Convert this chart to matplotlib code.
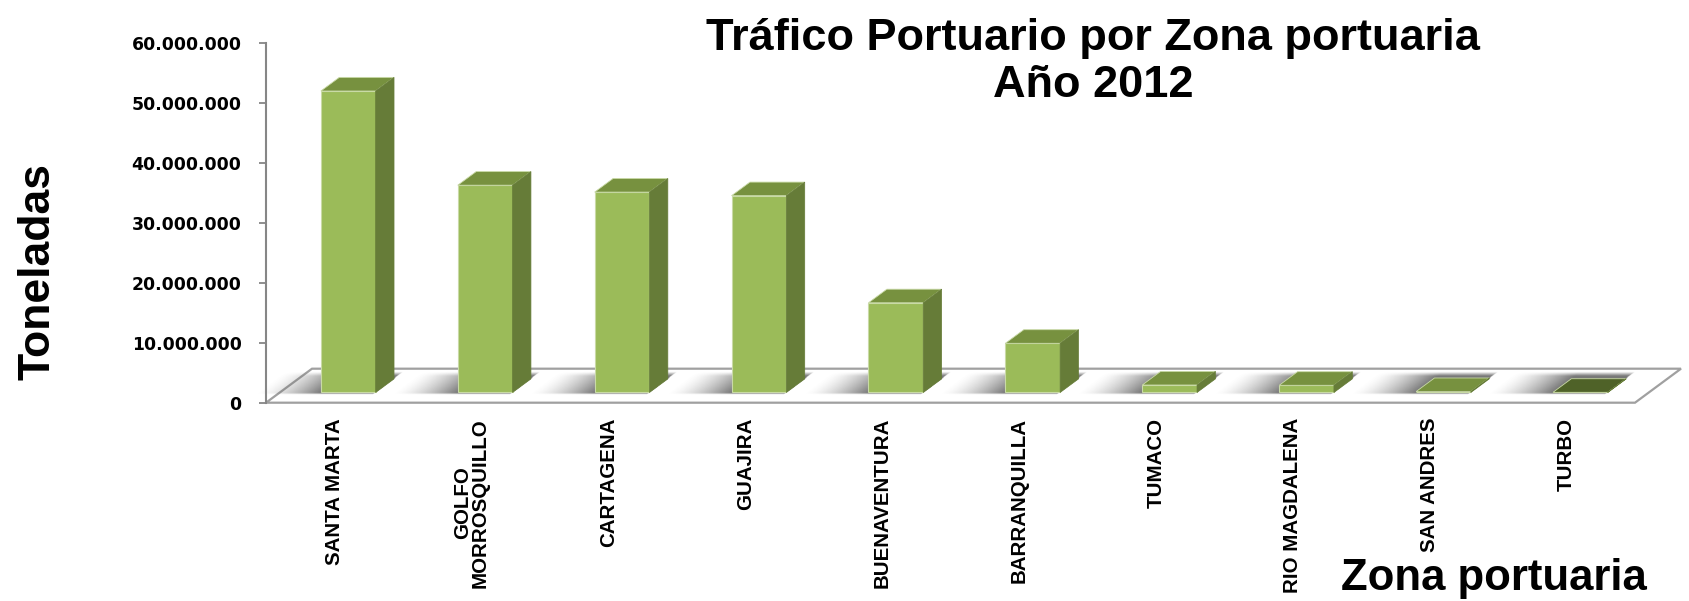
"""
Tráfico portuario por zona portuaria, año 2012 (columnas con efecto 3D)
"""

import numpy as np
import matplotlib

matplotlib.use("Agg")
import matplotlib.pyplot as plt
from matplotlib.patches import Polygon

# datos
ZONAS = [
    "SANTA MARTA",
    "GOLFO\nMORROSQUILLO",
    "CARTAGENA",
    "GUAJIRA",
    "BUENAVENTURA",
    "BARRANQUILLA",
    "TUMACO",
    "RIO MAGDALENA",
    "SAN ANDRES",
    "TURBO",
]
TONELADAS = [
    50_250_000,
    34_550_000,
    33_400_000,
    32_800_000,
    14_950_000,
    8_200_000,
    1_250_000,
    1_200_000,
    150_000,
    30_000,
]
Y_TICKS = [0, 10_000_000, 20_000_000, 30_000_000, 40_000_000, 50_000_000, 60_000_000]

# estilo
FRONT = "#9BBB59"
SIDE = "#667C38"
TOP_COLORS = ["#77913F"] * 9 + ["#4F6228"]
EDGE = "#C9DAA6"
GRAY = "#A0A0A0"

W_PX, H_PX = 1689, 601
BAR_W = 0.4          # ancho de columna (fraccion de categoria)
Z0, Z1 = 0.3, 0.7    # profundidad de la columna dentro del piso
DX = 0.336           # desplazamiento horizontal de la profundidad (categorias)
DY = 5_667_000       # desplazamiento vertical de la profundidad (toneladas)


def fig_xy(x, y):
    return x / W_PX, 1 - y / H_PX


fig = plt.figure(figsize=(W_PX / 100, H_PX / 100), dpi=100)
ax = fig.add_axes([0, 0, 1, 1])
n = len(ZONAS)

# piso
floor = Polygon(
    [(0, 0), (n, 0), (n + DX, DY), (DX, DY)],
    closed=True,
    facecolor="white",
    edgecolor=GRAY,
    lw=1.6,
    zorder=1,
)
ax.add_patch(floor)

# sombras sobre el piso
SH_LEN = 0.47
for i in range(n):
    bl = i + (1 - BAR_W) / 2
    xs = np.linspace(bl - 0.6, bl + BAR_W + DX, 220)
    ys = np.linspace(0, DY, 60)
    X, Y = np.meshgrid(xs, ys)
    Z = Y / DY
    U = X - Z * DX
    lat = np.clip((U - (bl - SH_LEN)) / SH_LEN, 0, 1) ** 1.5
    dep = np.clip((Z - 0.24) / 0.05, 0, 1) * np.clip((0.9 - Z) / 0.12, 0, 1)
    alpha = 0.85 * lat * dep
    alpha[U > bl + BAR_W] = 0
    rgba = np.zeros(X.shape + (4,))
    rgba[..., :3] = 0.38
    rgba[..., 3] = alpha
    ax.imshow(
        rgba,
        extent=(xs[0], xs[-1], 0, DY),
        origin="lower",
        aspect="auto",
        interpolation="bilinear",
        zorder=2,
    )

# columnas: cara frontal
x_front = [i + (1 - BAR_W) / 2 + Z0 * DX for i in range(n)]
y_base = Z0 * DY
ax.bar(
    x_front,
    TONELADAS,
    width=BAR_W,
    bottom=y_base,
    align="edge",
    color=FRONT,
    edgecolor=EDGE,
    lw=0.8,
    zorder=4,
)

# caras superior y lateral
ddx = (Z1 - Z0) * DX
ddy = (Z1 - Z0) * DY
for i, (x0, v) in enumerate(zip(x_front, TONELADAS)):
    top = y_base + v
    x1 = x0 + BAR_W
    ax.add_patch(
        Polygon(
            [(x0, top), (x1, top), (x1 + ddx, top + ddy), (x0 + ddx, top + ddy)],
            facecolor=TOP_COLORS[i],
            edgecolor=EDGE,
            lw=0.6,
            zorder=4,
        )
    )
    ax.add_patch(
        Polygon(
            [(x1, y_base), (x1, top), (x1 + ddx, top + ddy), (x1 + ddx, y_base + ddy)],
            facecolor=SIDE,
            edgecolor=SIDE,
            lw=0.5,
            zorder=4,
        )
    )

# eje de valores
for side in ["top", "right", "bottom"]:
    ax.spines[side].set_visible(False)
ax.spines["left"].set_position(("data", 0))
ax.spines["left"].set_bounds(0, Y_TICKS[-1])
ax.spines["left"].set_color("#868686")
ax.spines["left"].set_linewidth(1.5)
ax.spines["bottom"].set_position(("data", 0))

ax.set_yticks(
    Y_TICKS,
    [f"{v:,.0f}".replace(",", ".") for v in Y_TICKS],
    fontsize=12.4,
    fontweight="heavy",
    family="DejaVu Sans",
)
ax.tick_params(axis="y", direction="out", length=5.3, width=1.3, color="#868686", pad=12.3)

ax.set_xticks(
    [i + 0.5 for i in range(n)],
    ZONAS,
    rotation=90,
    fontsize=14.8,
    fontweight="bold",
    family="Liberation Sans",
    linespacing=0.95,
)
ax.tick_params(axis="x", length=0, pad=11)

# limites para que la geometria coincida con la imagen
ax.set_xlim(-266 / 136.9, (W_PX - 266) / 136.9)
ax.set_ylim((402.7 - H_PX) * 1e7 / 60, 402.7 * 1e7 / 60)

# textos
for txt, y in [("Tráfico Portuario por Zona portuaria", 50), ("Año 2012", 97)]:
    fig.text(
        *fig_xy(1093, y),
        txt,
        ha="center",
        va="baseline",
        fontsize=32.5,
        fontweight="bold",
        family="Liberation Sans",
    )
fig.text(
    *fig_xy(50, 272),
    "Toneladas",
    rotation=90,
    rotation_mode="anchor",
    ha="center",
    va="baseline",
    fontsize=32,
    fontweight="bold",
    family="Liberation Sans",
)
fig.text(
    *fig_xy(1341, 590),
    "Zona portuaria",
    ha="left",
    va="baseline",
    fontsize=31.5,
    fontweight="bold",
    family="Liberation Sans",
)

fig.savefig("out.png", dpi=100)
